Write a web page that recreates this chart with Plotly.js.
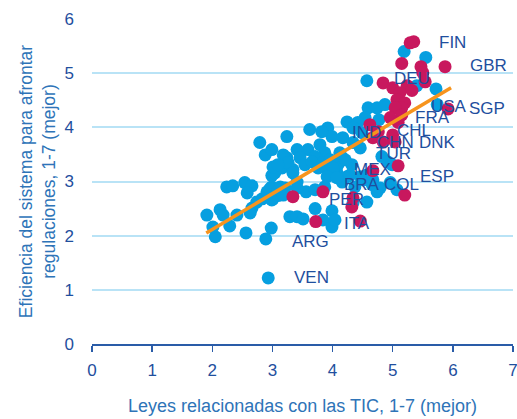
<!DOCTYPE html>
<html>
<head>
<meta charset="utf-8">
<script src="https://cdn.plot.ly/plotly-3.0.1.min.js"></script>
<style>html,body{margin:0;padding:0;background:#fff;}#chart{width:517px;height:419px;}</style>
</head>
<body>
<div id="chart"></div>
<script>
// Other countries (blue)
const otherX = [5.19,5.55,4.57,5.40,5.72,5.74,4.59,4.74,4.87,4.77,4.54,4.24,4.42,4.34,4.49,4.17,4.34,4.46,
  3.92,3.99,3.82,3.62,3.24,2.79,2.88,2.99,3.08,2.99,3.24,3.59,3.79,3.87,3.71,3.18,3.24,3.16,3.34,3.41,
  3.46,3.54,3.66,3.76,3.84,3.96,3.91,4.07,4.16,4.09,4.32,4.21,4.01,4.12,4.24,4.37,4.51,4.57,4.66,4.16,
  3.91,4.07,4.29,4.99,4.82,4.92,4.46,4.67,4.79,4.96,5.07,4.74,4.34,4.57,3.56,3.71,3.87,3.41,3.21,3.71,
  3.99,3.84,3.99,4.04,3.29,3.41,3.51,2.98,2.89,2.56,2.29,2.05,1.91,2.13,2.18,2.41,2.01,2.24,2.34,2.54,
  2.66,2.58,2.66,2.74,2.83,2.91,3.01,3.09,2.63,2.91,2.99,3.04,3.01,3.26,3.09,3.34,3.41,2.96,3.08,2.99,
  3.13,3.18,2.93];
const otherY = [5.40,5.29,4.86,4.77,4.71,4.42,4.36,4.36,4.42,4.14,4.18,4.10,4.09,3.99,3.90,3.81,3.72,3.62,
  3.99,3.83,3.92,3.96,3.83,3.72,3.49,3.59,3.25,3.11,3.44,3.59,3.68,3.53,3.46,3.49,3.31,3.25,3.22,3.59,
  3.44,3.31,3.36,3.25,3.35,3.40,3.22,3.18,3.44,3.31,3.31,3.40,3.25,3.53,3.09,2.90,3.03,3.12,2.94,2.99,
  3.09,3.07,3.12,3.31,3.46,3.36,3.09,3.03,2.88,2.98,2.85,2.81,2.61,2.62,2.81,2.85,2.90,2.88,2.88,2.50,
  2.46,2.29,2.16,2.29,2.35,2.35,2.31,2.14,1.94,2.05,2.18,1.98,2.38,2.48,2.38,2.38,2.16,2.90,2.92,2.98,
  2.92,2.79,2.51,2.62,2.68,2.72,2.68,2.74,2.42,2.81,2.90,3.16,3.27,3.35,3.31,3.16,2.99,2.87,2.81,2.66,
  2.90,2.75,1.22];

// Highlighted countries (magenta)
const hiX = [5.29,5.35,5.15,5.47,5.50,5.87,5.54,4.84,5.00,5.24,5.32,5.12,5.07,5.20,5.15,5.04,5.92,4.96,
  5.15,4.62,5.09,4.76,4.67,5.00,4.84,5.04,5.09,4.67,5.20,4.32,4.34,4.46,3.72,3.34,3.84];
const hiY = [5.56,5.58,5.18,5.12,5.01,5.12,4.84,4.82,4.73,4.77,4.68,4.64,4.51,4.45,4.36,4.36,4.34,4.18,
  4.23,4.05,4.09,3.92,3.81,3.86,3.73,3.73,3.29,3.20,2.75,2.53,2.70,2.27,2.26,2.72,2.81];

// Trend line
const trendX = [1.90, 5.97];
const trendY = [2.05, 4.73];

// Country labels
const labelText = ["FIN","GBR","DEU","USA","SGP","FRA","IND","CHL","CHN","DNK","TUR","MEX","ESP","BRA","COL","PER","ITA","ARG","VEN"];
const labelX = [5.74,6.25,4.99,5.60,6.24,5.34,4.29,5.04,4.71,5.40,4.69,4.32,5.42,4.16,4.82,3.91,4.16,3.29,3.33];
const labelY = [5.56,5.14,4.90,4.38,4.34,4.18,3.90,3.94,3.72,3.72,3.51,3.22,3.09,2.94,2.94,2.66,2.22,1.90,1.22];

const xTicks = [0,1,2,3,4,5,6,7];
const yTicks = [0,1,2,3,4,5,6];

const FONT = "Liberation Sans, Arial, sans-serif";
const DARK = "#1f4f9e";
const MID = "#2e74b8";

const traces = [
  {x: otherX, y: otherY, type: "scatter", mode: "markers", hoverinfo: "skip",
   marker: {color: "#069fe0", size: 13, line: {width: 0}}},
  {x: hiX, y: hiY, type: "scatter", mode: "markers", hoverinfo: "skip",
   marker: {color: "#c8185e", size: 13, line: {width: 0}}},
  {x: trendX, y: trendY, type: "scatter", mode: "lines", hoverinfo: "skip",
   line: {color: "#f7941d", width: 3.5}}
];

const annotations = labelText.map((t, i) => ({
  x: labelX[i], y: labelY[i], xref: "x", yref: "y", text: t, showarrow: false,
  xanchor: "left", yanchor: "middle", font: {family: FONT, size: 17, color: DARK}
}));

const layout = {
  width: 517, height: 419,
  margin: {l: 92, r: 4, t: 19, b: 75},
  paper_bgcolor: "#ffffff", plot_bgcolor: "#ffffff",
  showlegend: false,
  font: {family: FONT, color: DARK},
  xaxis: {
    range: [0, 7], tickvals: xTicks, ticktext: xTicks.map(String),
    showgrid: false, zeroline: false, showline: true, linecolor: "#2a5ca8", linewidth: 1.5,
    ticks: "outside", ticklen: 6, tickcolor: "#2a5ca8", tickwidth: 1.5,
    tickfont: {family: FONT, size: 17, color: DARK}, ticklabelstandoff: 4,
    ticklabeloverflow: "allow",
    title: {text: "Leyes relacionadas con las TIC, 1-7 (mejor)", font: {family: FONT, size: 18, color: MID}, standoff: 20},
    fixedrange: true
  },
  yaxis: {
    range: [0, 6], tickvals: yTicks, ticktext: yTicks.map(String),
    showgrid: true, gridcolor: "#b9e3f6", gridwidth: 2, zeroline: false, showline: false,
    ticks: "", tickfont: {family: FONT, size: 17, color: DARK}, ticklabelstandoff: 17,
    title: {text: "Eficiencia del sistema para afrontar<br>regulaciones, 1-7 (mejor)", font: {family: FONT, size: 17.5, color: MID}, standoff: 4},
    fixedrange: true
  },
  annotations: annotations
};

Plotly.newPlot("chart", traces, layout, {displayModeBar: false, staticPlot: true});
</script>
</body>
</html>
